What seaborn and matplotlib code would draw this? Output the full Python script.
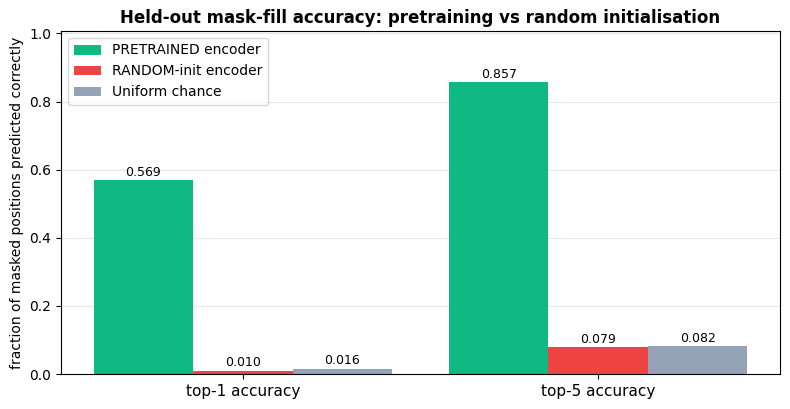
import pandas as pd
import numpy as np
import matplotlib
matplotlib.use('Agg')
import matplotlib.pyplot as plt
import seaborn as sns

# data
metrics = ['top-1 accuracy', 'top-5 accuracy']
models = ['PRETRAINED encoder', 'RANDOM-init encoder', 'Uniform chance']
pretrained = [0.569, 0.857]
random_init = [0.010, 0.079]
chance = [0.016, 0.082]
palette = ['#10b981', '#ef4444', '#94a3b8']

df = pd.DataFrame({
    'metric': metrics * 3,
    'model': [models[0]] * 2 + [models[1]] * 2 + [models[2]] * 2,
    'acc': pretrained + random_init + chance,
})

fig, ax = plt.subplots(figsize=(7.9, 4.09), dpi=100)
sns.barplot(data=df, x='metric', y='acc', hue='model', hue_order=models,
            palette=palette, width=0.84, saturation=1, ax=ax, errorbar=None)

for cont in ax.containers:
    ax.bar_label(cont, fmt='%.3f', fontsize=9, padding=1)

ax.set_xlim(-0.512, 1.512)
ax.set_ylim(0, 1.007)
ax.set_xlabel('')
ax.set_ylabel('fraction of masked positions predicted correctly', fontsize=10)
ax.set_title('Held-out mask-fill accuracy: pretraining vs random initialisation',
             fontsize=12, fontweight='bold', pad=6)
ax.tick_params(axis='x', labelsize=11)
ax.grid(axis='y', alpha=0.3)
ax.set_axisbelow(True)
ax.legend(loc='upper left', fontsize=10, title=None)

fig.subplots_adjust(left=61/790, right=780/790, top=1 - 31/409, bottom=1 - 374/409)
plt.savefig('out.png', dpi=100)
